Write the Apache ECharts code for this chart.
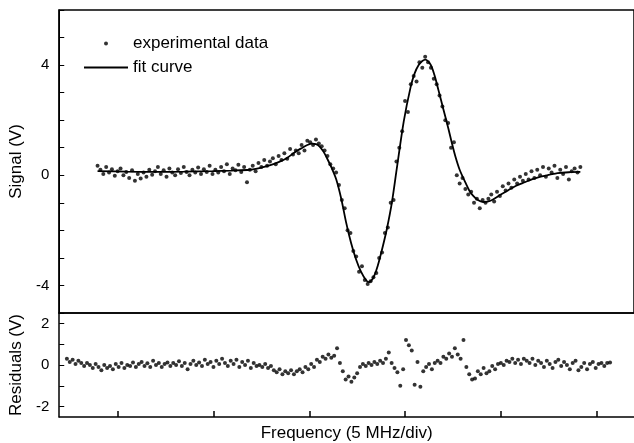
<!DOCTYPE html>
<html>
<head>
<meta charset="utf-8">
<script src="https://cdn.jsdelivr.net/npm/echarts@6/dist/echarts.min.js"></script>
<style>
html,body{margin:0;padding:0;background:#fff;}
#chart{width:634px;height:443px;}
</style>
</head>
<body>
<div id="chart"></div>
<script>
// Frequency in MHz (axis origin at left frame), 5 MHz per division
const freqTicks = [3.057, 8.057, 13.057, 18.057, 23.057, 28.057];
const signalTicks = [-5,-4,-3,-2,-1,0,1,2,3,4,5,6];
const signalTickLabels = [-4, 0, 4];
const residualTicks = [-2, -1, 0, 1, 2];
const residualTickLabels = [-2, 0, 2];

const expFreq = [
2.0,2.15,2.3,2.45,2.6,2.75,2.9,3.05,3.2,3.35,3.5,3.65,3.8,3.95,4.1,4.25,4.4,4.55,4.7,4.85,
5.0,5.15,5.3,5.45,5.6,5.75,5.9,6.05,6.2,6.35,6.5,6.65,6.8,6.95,7.1,7.25,7.4,7.55,7.7,7.85,
8.0,8.15,8.3,8.45,8.6,8.75,8.9,9.05,9.2,9.35,9.5,9.65,9.8,9.95,
10.1,10.25,10.4,10.55,10.7,10.85,11.0,11.15,11.3,11.45,11.6,11.75,11.9,12.05,12.2,12.35,12.5,12.65,12.8,12.95,
13.1,13.25,13.4,13.55,13.7,13.85,14.0,14.15,14.3,
14.45,14.6,14.75,14.9,15.05,15.2,15.35,15.5,15.65,15.8,15.95,16.1,16.25,16.4,16.55,16.7,16.85,17.0,17.15,17.3,
17.45,17.6,17.75,17.9,18.05,18.2,18.35,18.5,18.65,18.8,18.95,19.1,19.25,19.4,19.55,19.7,19.85,20.0,20.15,20.3,
20.45,20.6,20.75,20.9,21.05,21.2,21.35,21.5,21.65,21.8,21.95,22.1,22.25,
22.4,22.55,22.7,22.85,23.0,23.15,23.3,23.45,23.6,23.75,23.9,24.05,24.2,24.35,24.5,24.65,24.8,24.95,25.1,25.25,
25.4,25.55,25.7,25.85,26.0,26.15,26.3,26.45,26.6,26.75,26.9,27.05,27.2
];
const expSignal = [
0.35,0.2,0.05,0.3,0.1,0.22,-0.02,0.15,0.25,0.0,0.12,-0.1,0.18,-0.2,0.05,-0.12,0.1,-0.05,0.2,0.02,
0.15,0.3,0.05,0.18,-0.05,0.25,0.1,0.0,0.22,0.08,0.3,0.12,0.0,0.2,0.1,0.28,0.05,0.22,0.12,0.35,
0.05,0.2,0.1,0.3,0.15,0.4,0.05,0.25,0.18,0.38,0.12,0.3,-0.25,0.2,
0.35,0.15,0.45,0.3,0.55,0.35,0.5,0.62,0.4,0.7,0.55,0.8,0.6,0.95,0.75,0.9,0.8,1.1,0.9,1.25,
1.2,1.1,1.3,1.15,1.05,0.9,0.7,0.4,0.25,
0.1,-0.35,-0.9,-1.2,-2.0,-2.1,-2.75,-2.95,-3.5,-3.3,-3.8,-3.95,-3.85,-3.7,-3.55,-3.0,-2.8,-2.1,-1.9,-1.0,
-0.9,0.5,1.0,1.6,2.7,2.3,3.3,3.6,3.4,4.1,3.9,4.3,4.1,3.9,3.5,3.3,2.9,2.5,2.0,1.9,
1.0,1.2,0.0,-0.3,-0.1,-0.5,-0.7,-0.6,-1.0,-0.85,-1.2,-0.9,-1.0,
-0.85,-0.7,-0.95,-0.6,-0.75,-0.4,-0.55,-0.3,-0.45,-0.15,-0.3,-0.05,-0.2,0.05,-0.15,0.15,-0.1,0.2,0.0,0.3,
-0.05,0.25,0.1,0.35,-0.1,0.2,0.05,0.3,-0.15,0.15,0.25,0.1,0.3
];

const fitFreq = [2.0,3.5,5.0,6.5,8.0,9.0,9.95,10.5,10.98,11.45,11.87,12.3,12.69,12.95,13.21,13.4,13.58,13.8,13.99,14.23,
14.46,14.72,14.97,15.23,15.49,15.75,16.01,16.17,16.37,16.55,16.68,16.9,17.1,17.36,17.62,17.98,18.34,18.55,18.76,18.95,
19.12,19.3,19.43,19.6,19.79,20.05,20.31,20.5,20.67,20.9,21.19,21.4,21.61,21.85,22.12,22.4,22.64,23.0,23.42,23.85,
24.3,24.7,25.13,25.6,26.01,26.6,27.2];
const fitSignal = [0.15,0.13,0.12,0.13,0.15,0.17,0.2,0.27,0.36,0.48,0.62,0.84,1.0,1.1,1.15,1.13,1.05,0.85,0.6,0.25,
-0.15,-0.85,-1.7,-2.45,-3.05,-3.5,-3.8,-3.88,-3.75,-3.45,-3.15,-2.55,-1.95,-1.0,0.25,1.95,3.2,3.7,4.0,4.15,
4.2,4.1,3.95,3.6,3.1,2.4,1.7,1.15,0.7,0.2,-0.25,-0.55,-0.75,-0.9,-0.97,-0.95,-0.88,-0.72,-0.55,-0.38,
-0.25,-0.14,-0.05,0.02,0.08,0.11,0.12];

const resFreq = [
0.4,0.55,0.7,0.85,1.0,1.15,1.3,1.45,1.6,1.75,1.9,2.05,2.2,2.35,2.5,2.65,2.8,2.95,3.1,3.25,
3.4,3.55,3.7,3.85,4.0,4.15,4.3,4.45,4.6,4.75,4.9,5.05,5.2,5.35,5.5,5.65,5.8,5.95,6.1,6.25,
6.4,6.55,6.7,6.85,7.0,7.15,7.3,7.45,7.6,7.75,7.9,8.05,8.2,8.35,8.5,8.65,8.8,8.95,9.1,9.25,
9.4,9.55,9.7,9.85,10.0,10.15,10.3,10.45,10.6,10.75,10.9,11.05,11.2,11.35,11.5,11.65,11.8,11.95,12.1,12.25,
12.4,12.55,12.7,12.85,13.0,13.15,13.3,13.45,13.6,13.75,13.9,14.05,14.2,14.35,14.5,14.65,14.8,14.95,15.1,15.25,
15.4,15.55,15.7,15.85,16.0,16.15,16.3,16.45,16.6,16.75,16.9,17.05,17.2,17.35,17.5,17.65,17.8,17.95,18.1,18.25,
18.4,18.55,18.7,18.85,19.0,19.15,19.3,19.45,19.6,19.75,19.9,20.05,20.2,20.35,20.5,20.65,20.8,20.95,21.1,21.25,
21.4,21.55,21.7,21.85,22.0,22.15,22.3,22.45,22.6,22.75,22.9,23.05,23.2,23.35,23.5,23.65,23.8,23.95,24.1,24.25,
24.4,24.55,24.7,24.85,25.0,25.15,25.3,25.45,25.6,25.75,25.9,26.05,26.2,26.35,26.5,26.65,26.8,26.95,27.1,27.25,
27.4,27.55,27.7,27.85,28.0,28.15,28.3,28.45,28.6,28.75
];
const resValue = [
0.3,0.15,0.25,0.05,0.2,0.1,-0.05,0.1,0.0,-0.15,0.05,-0.1,-0.25,0.0,-0.15,-0.05,-0.2,0.05,-0.1,0.1,
-0.15,0.0,-0.05,0.12,-0.1,0.05,0.15,-0.05,0.08,-0.1,0.2,0.0,0.1,-0.1,0.05,0.12,-0.05,0.1,0.0,0.18,
-0.05,0.1,-0.2,0.05,0.2,0.0,0.12,-0.05,0.25,0.05,0.15,-0.1,0.2,0.05,0.3,0.1,-0.05,0.2,0.05,0.25,
-0.1,0.15,0.0,0.2,-0.15,0.1,-0.05,0.0,-0.1,0.05,-0.15,-0.05,-0.25,-0.35,-0.2,-0.45,-0.3,-0.4,-0.25,-0.45,
-0.3,-0.2,-0.35,-0.1,-0.2,0.05,-0.1,0.25,0.15,0.4,0.3,0.5,0.35,0.45,0.8,0.1,-0.3,-0.7,-0.55,-0.8,
-0.6,-0.4,-0.1,0.05,-0.05,0.1,0.0,0.15,0.05,0.2,0.1,0.3,0.6,0.1,-0.15,-0.35,-1.0,-0.2,1.2,0.95,
0.7,-0.95,0.15,-1.05,-0.3,-0.1,0.05,-0.2,0.1,0.2,0.1,0.4,0.3,0.55,0.4,0.8,0.5,0.3,1.2,-0.1,
-0.45,-0.7,-0.65,-0.3,-0.45,-0.15,-0.4,-0.3,-0.05,-0.2,0.05,0.1,0.0,0.2,0.15,0.3,0.1,0.25,0.05,0.3,
0.2,0.1,0.3,0.0,0.2,0.1,-0.1,0.2,0.05,-0.15,0.15,0.25,-0.05,0.15,0.0,-0.2,0.1,0.2,-0.25,-0.1,
0.1,-0.2,0.05,0.15,-0.15,0.05,0.1,-0.05,0.1,0.12
];

const zip = (a, b) => a.map((v, i) => [v, b[i]]);
const FONT = 'Liberation Sans, Arial, sans-serif';

const chart = echarts.init(document.getElementById('chart'));
chart.setOption({
  animation: false,
  backgroundColor: '#fff',
  legend: {
    orient: 'vertical',
    left: 79, top: 30,
    itemWidth: 44, itemHeight: 4, itemGap: 7,
    textStyle: { fontFamily: FONT, fontSize: 17, color: '#000' },
    data: [
      { name: 'experimental data', icon: 'circle' },
      { name: 'fit curve', icon: 'path://M0,0 L22,0 L22,1 L0,1 Z' }
    ]
  },
  grid: [
    { left: 58, top: 10, right: -3, height: 303, show: true, borderColor: '#000', borderWidth: 1.5, backgroundColor: 'transparent' },
    { left: 58, top: 313, right: -3, height: 104 }
  ],
  xAxis: [
    { gridIndex: 0, type: 'value', min: 0, max: 30,
      axisLine: { show: true, onZero: false, lineStyle: { color: '#000', width: 1.5 } },
      axisTick: { show: false }, axisLabel: { show: false }, splitLine: { show: false } },
    { gridIndex: 1, type: 'value', min: 0, max: 30,
      name: 'Frequency (5 MHz/div)', nameLocation: 'middle', nameGap: 8,
      nameTextStyle: { fontFamily: FONT, fontSize: 17, color: '#000' },
      axisLine: { show: true, onZero: false, lineStyle: { color: '#000', width: 1.5 } },
      axisTick: { show: true, inside: true, length: 6, customValues: freqTicks, lineStyle: { color: '#000', width: 1.5 } },
      axisLabel: { show: false }, splitLine: { show: false } }
  ],
  yAxis: [
    { gridIndex: 0, type: 'value', min: -5, max: 6, interval: 1,
      name: 'Signal (V)', nameLocation: 'middle', nameGap: 30,
      nameTextStyle: { fontFamily: FONT, fontSize: 17, color: '#000' },
      axisLine: { show: true, onZero: false, lineStyle: { color: '#000', width: 1.5 } },
      axisTick: { show: true, inside: true, length: 5, customValues: signalTicks, lineStyle: { color: '#000', width: 1 } },
      axisLabel: { show: true, customValues: signalTickLabels, margin: 10, fontFamily: FONT, fontSize: 15, color: '#000' },
      splitLine: { show: false } },
    { gridIndex: 1, type: 'value', min: -2.5, max: 2.5,
      name: 'Residuals (V)', nameLocation: 'middle', nameGap: 30,
      nameTextStyle: { fontFamily: FONT, fontSize: 17, color: '#000' },
      axisLine: { show: true, onZero: false, lineStyle: { color: '#000', width: 1.5 } },
      axisTick: { show: true, inside: true, length: 5, customValues: residualTicks, lineStyle: { color: '#000', width: 1 } },
      axisLabel: { show: true, customValues: residualTickLabels, margin: 10, fontFamily: FONT, fontSize: 15, color: '#000' },
      splitLine: { show: false } }
  ],
  series: [
    { name: 'experimental data', type: 'scatter', xAxisIndex: 0, yAxisIndex: 0,
      symbol: 'circle', symbolSize: 4, itemStyle: { color: '#000' },
      data: zip(expFreq, expSignal) },
    { name: 'fit curve', type: 'line', xAxisIndex: 0, yAxisIndex: 0,
      showSymbol: false, smooth: 0.3, lineStyle: { color: '#000', width: 1.8 }, itemStyle: { color: '#000' },
      data: zip(fitFreq, fitSignal), z: 3 },
    { name: 'residuals', type: 'scatter', xAxisIndex: 1, yAxisIndex: 1,
      symbol: 'circle', symbolSize: 4, itemStyle: { color: '#000' },
      data: zip(resFreq, resValue) }
  ]
});
</script>
</body>
</html>
